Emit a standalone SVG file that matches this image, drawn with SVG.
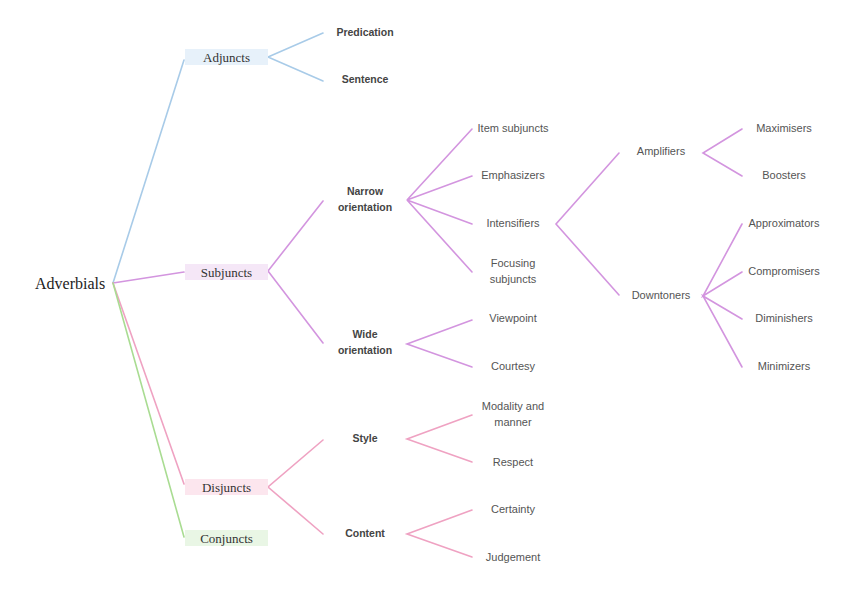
<svg xmlns="http://www.w3.org/2000/svg" width="848" height="599" viewBox="0 0 848 599">
<style>
.root{font-family:"Liberation Serif",serif;font-size:16px;fill:#222}
.l1{font-family:"Liberation Serif",serif;font-size:13px;fill:#333;text-anchor:middle}
.l2{font-family:"Liberation Sans",sans-serif;font-size:10.5px;font-weight:bold;fill:#444;text-anchor:middle}
.l3{font-family:"Liberation Sans",sans-serif;font-size:11px;fill:#555;text-anchor:middle}
.c line,.c polyline{fill:none;stroke-width:1.6;stroke-linecap:round}
.blue{stroke:#a8cbe8}
.purple{stroke:#d395df}
.pink{stroke:#efa2c2}
.green{stroke:#a9dc92}
</style>
<rect width="848" height="599" fill="#ffffff"/>
<g class="c" id="connectors">
<line class="blue" x1="113" y1="283" x2="184" y2="60"/>
<line class="purple" x1="113" y1="283" x2="184" y2="272"/>
<line class="pink" x1="113" y1="283" x2="184" y2="484"/>
<line class="green" x1="113" y1="283" x2="184" y2="537"/>
<polyline class="blue" points="323,33 268,57 323,81"/>
<polyline class="purple" points="323,201 268,271 323,343"/>
<polyline class="pink" points="323,440 268,487 323,534"/>
<polyline class="purple" points="472,129 407,200 472,176"/>
<polyline class="purple" points="472,224 407,200 472,272"/>
<polyline class="purple" points="472,320 407,344 472,367"/>
<polyline class="purple" points="619,153 556,224 619,295"/>
<polyline class="purple" points="742,129 703,153 742,176"/>
<polyline class="purple" points="742,224 703,296 742,272"/>
<polyline class="purple" points="742,319 703,296 742,367"/>
<polyline class="pink" points="472,415 407,439 472,462"/>
<polyline class="pink" points="472,510 407,534 472,557"/>
</g>
<g id="n-adverbials"><text class="root" x="35" y="289">Adverbials</text></g>
<g id="n-adjuncts"><rect x="185" y="49" width="83" height="16" fill="#e7f1fa"/><text class="l1" x="226.5" y="61.5">Adjuncts</text></g>
<g id="n-subjuncts"><rect x="185" y="264" width="83" height="16" fill="#f5e7f7"/><text class="l1" x="226.5" y="276.5">Subjuncts</text></g>
<g id="n-disjuncts"><rect x="185" y="479" width="83" height="16" fill="#fce6ee"/><text class="l1" x="226.5" y="491.5">Disjuncts</text></g>
<g id="n-conjuncts"><rect x="185" y="530" width="83" height="16" fill="#e9f6e5"/><text class="l1" x="226.5" y="542.5">Conjuncts</text></g>
<g id="n-predication"><text class="l2" x="365" y="36">Predication</text></g>
<g id="n-sentence"><text class="l2" x="365" y="83">Sentence</text></g>
<g id="n-narrow"><text class="l2" x="365" y="195">Narrow</text><text class="l2" x="365" y="211">orientation</text></g>
<g id="n-wide"><text class="l2" x="365" y="338">Wide</text><text class="l2" x="365" y="354">orientation</text></g>
<g id="n-style"><text class="l2" x="365" y="442">Style</text></g>
<g id="n-content"><text class="l2" x="365" y="537">Content</text></g>
<g id="n-item"><text class="l3" x="513" y="132">Item subjuncts</text></g>
<g id="n-emph"><text class="l3" x="513" y="179">Emphasizers</text></g>
<g id="n-intens"><text class="l3" x="513" y="227">Intensifiers</text></g>
<g id="n-focusing"><text class="l3" x="513" y="267">Focusing</text><text class="l3" x="513" y="283">subjuncts</text></g>
<g id="n-viewpoint"><text class="l3" x="513" y="322">Viewpoint</text></g>
<g id="n-courtesy"><text class="l3" x="513" y="370">Courtesy</text></g>
<g id="n-modality"><text class="l3" x="513" y="410">Modality and</text><text class="l3" x="513" y="426">manner</text></g>
<g id="n-respect"><text class="l3" x="513" y="466">Respect</text></g>
<g id="n-certainty"><text class="l3" x="513" y="513">Certainty</text></g>
<g id="n-judgement"><text class="l3" x="513" y="561">Judgement</text></g>
<g id="n-amplifiers"><text class="l3" x="661" y="155">Amplifiers</text></g>
<g id="n-downtoners"><text class="l3" x="661" y="299">Downtoners</text></g>
<g id="n-maximisers"><text class="l3" x="784" y="132">Maximisers</text></g>
<g id="n-boosters"><text class="l3" x="784" y="179">Boosters</text></g>
<g id="n-approx"><text class="l3" x="784" y="227">Approximators</text></g>
<g id="n-compro"><text class="l3" x="784" y="275">Compromisers</text></g>
<g id="n-dimin"><text class="l3" x="784" y="322">Diminishers</text></g>
<g id="n-minim"><text class="l3" x="784" y="370">Minimizers</text></g>
</svg>
